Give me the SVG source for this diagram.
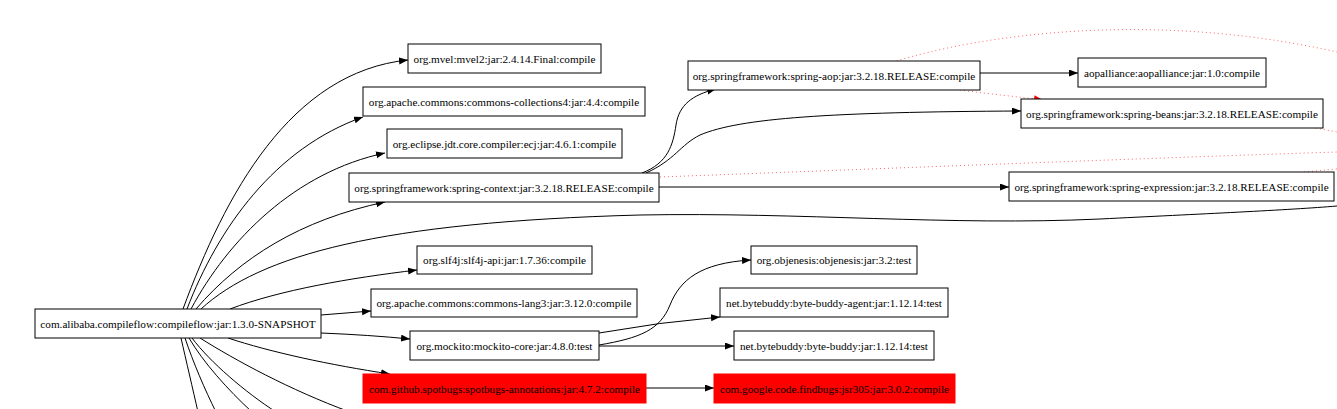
<svg xmlns="http://www.w3.org/2000/svg" width="1337" height="409" viewBox="0 0 1337 409">
<style>
.n rect{fill:#fff;stroke:#000;stroke-width:1}
.n.red rect{fill:#ff0000;stroke:#ff0000}
.n text{font-family:"Liberation Serif","Times New Roman",serif;font-size:11.2px;fill:#000;text-anchor:middle}
.e path{fill:none;stroke:#000;stroke-width:1}
.e path.a{marker-end:url(#arr)}
.e path.d{stroke:#ff0000;stroke-opacity:0.6;stroke-dasharray:1 3}
.e path.dr{stroke:#ff0000;stroke-opacity:0.6;stroke-dasharray:1 3;marker-end:url(#arrR)}
</style>
<defs>
<marker id="arr" markerWidth="10" markerHeight="8" refX="9" refY="3.5" orient="auto" markerUnits="userSpaceOnUse"><path d="M0,0 L9,3.5 L0,7z" fill="#000"/></marker>
<marker id="arrR" markerWidth="10" markerHeight="8" refX="9" refY="3.5" orient="auto" markerUnits="userSpaceOnUse"><path d="M0,0 L9,3.5 L0,7z" fill="#ff0000"/></marker>
</defs>
<rect width="1337" height="409" fill="#fff"/>
<g id="edges" class="e">
<path class="a" d="M183,309 C225,195 290,72 408,60"/>
<path class="a" d="M187,309 C218,228 275,148 363,117"/>
<path class="a" d="M191,309 C228,240 295,172 385,153"/>
<path class="a" d="M196,309 C240,258 300,220 385,202"/>
<path d="M201,309 C260,255 380,222 640,215 C800,212 950,226 1100,219 C1200,214 1290,210 1337,206"/>
<path class="a" d="M230,309 C280,290 350,278 417,270"/>
<path class="a" d="M321,315 L371,311"/>
<path class="a" d="M321,333 Q370,335 410,339"/>
<path class="a" d="M228,338 C270,352 330,365 390,374"/>
<path d="M181,338 C186,360 193,390 198,412"/>
<path d="M185,338 C193,362 205,390 216,412"/>
<path d="M189,338 C203,362 228,390 252,412"/>
<path d="M192,338 C210,362 245,392 276,412"/>
<path d="M200,338 C235,360 290,390 350,412"/>
<path class="a" d="M642,173 C668,163 673,145 676,125 C679,105 692,95 716,89"/>
<path class="a" d="M646,173 C675,160 680,145 700,135 C740,118 830,112 1021,111"/>
<path class="a" d="M659,187 L1009,187"/>
<path class="d" d="M660,177 C900,168 1150,158 1337,152"/>
<path class="d" d="M1304,172 C1315,171 1325,170 1337,169"/>
<path class="d" d="M1316,128 L1337,132"/>
<path class="d" d="M893,62 C980,35 1150,10 1337,52"/>
<path class="dr" d="M960,90 C990,94 1020,97 1043,100"/>
<path class="a" d="M980,73 L1078,73"/>
<path class="a" d="M599,345 C640,338 660,330 670,305 C680,280 700,263 751,260"/>
<path class="a" d="M599,333 Q660,322 720,317"/>
<path class="a" d="M599,346 L734,346"/>
<path class="a" d="M646,388 L714,388"/>
</g>
<g id="root" class="n"><rect x="35" y="309" width="286" height="29"/><text x="178" y="327.5">com.alibaba.compileflow:compileflow:jar:1.3.0-SNAPSHOT</text></g>
<g id="mvel" class="n"><rect x="408" y="44" width="193" height="29"/><text x="504.5" y="62.5">org.mvel:mvel2:jar:2.4.14.Final:compile</text></g>
<g id="collections4" class="n"><rect x="363" y="87" width="282" height="29"/><text x="504" y="105.5">org.apache.commons:commons-collections4:jar:4.4:compile</text></g>
<g id="ecj" class="n"><rect x="387" y="129" width="235" height="29"/><text x="504.5" y="147.5">org.eclipse.jdt.core.compiler:ecj:jar:4.6.1:compile</text></g>
<g id="spring-context" class="n"><rect x="349" y="173" width="310" height="29"/><text x="504" y="191.5">org.springframework:spring-context:jar:3.2.18.RELEASE:compile</text></g>
<g id="spring-aop" class="n"><rect x="688" y="61" width="292" height="29"/><text x="834" y="79.5">org.springframework:spring-aop:jar:3.2.18.RELEASE:compile</text></g>
<g id="aopalliance" class="n"><rect x="1078" y="58" width="188" height="29"/><text x="1172" y="76.5">aopalliance:aopalliance:jar:1.0:compile</text></g>
<g id="spring-beans" class="n"><rect x="1021" y="99" width="302" height="29"/><text x="1172" y="117.5">org.springframework:spring-beans:jar:3.2.18.RELEASE:compile</text></g>
<g id="spring-expression" class="n"><rect x="1009" y="172" width="325" height="29"/><text x="1171.5" y="190.5">org.springframework:spring-expression:jar:3.2.18.RELEASE:compile</text></g>
<g id="slf4j" class="n"><rect x="417" y="246" width="175" height="28"/><text x="504.5" y="264">org.slf4j:slf4j-api:jar:1.7.36:compile</text></g>
<g id="commons-lang3" class="n"><rect x="371" y="289" width="266" height="28"/><text x="504" y="307">org.apache.commons:commons-lang3:jar:3.12.0:compile</text></g>
<g id="mockito" class="n"><rect x="410" y="331" width="189" height="29"/><text x="504.5" y="349.5">org.mockito:mockito-core:jar:4.8.0:test</text></g>
<g id="spotbugs" class="n red"><rect x="363" y="374" width="283" height="29"/><text x="504.5" y="392.5">com.github.spotbugs:spotbugs-annotations:jar:4.7.2:compile</text></g>
<g id="objenesis" class="n"><rect x="751" y="246" width="166" height="28"/><text x="834" y="264">org.objenesis:objenesis:jar:3.2:test</text></g>
<g id="byte-buddy-agent" class="n"><rect x="720" y="288" width="228" height="29"/><text x="834" y="306.5">net.bytebuddy:byte-buddy-agent:jar:1.12.14:test</text></g>
<g id="byte-buddy" class="n"><rect x="734" y="331" width="200" height="29"/><text x="834" y="349.5">net.bytebuddy:byte-buddy:jar:1.12.14:test</text></g>
<g id="jsr305" class="n red"><rect x="714" y="374" width="241" height="29"/><text x="834.5" y="392.5">com.google.code.findbugs:jsr305:jar:3.0.2:compile</text></g>
</svg>
